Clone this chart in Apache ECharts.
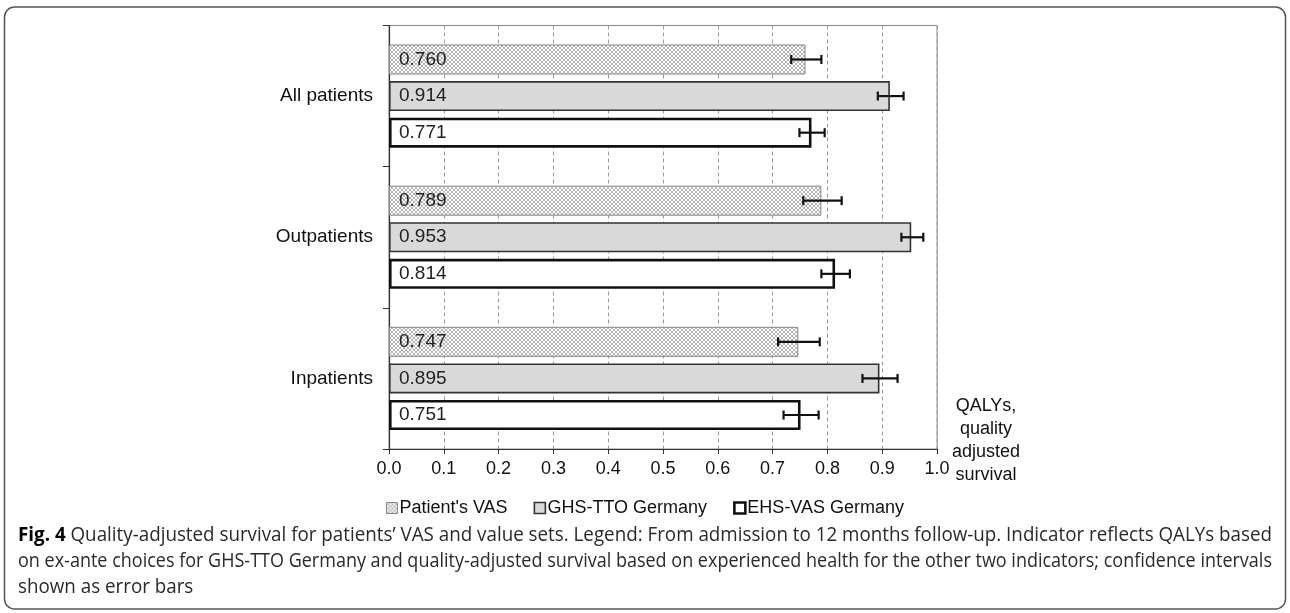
<!DOCTYPE html>
<html><head><meta charset="utf-8">
<script src="https://cdn.jsdelivr.net/npm/echarts@6/dist/echarts.min.js"></script>
<style>html,body{margin:0;padding:0;background:#fff}#c{width:1290px;height:613px}</style>
</head><body><div id="c"></div>
<script>
// ---- data ----
const categories = ['All patients', 'Outpatients', 'Inpatients'];
const seriesNames = ["Patient's VAS", 'GHS-TTO Germany', 'EHS-VAS Germany'];
const vasValues = [0.760, 0.789, 0.747];
const ghsValues = [0.914, 0.953, 0.895];
const ehsValues = [0.771, 0.814, 0.751];
const vasLow  = [0.734, 0.756, 0.710];
const vasHigh = [0.789, 0.826, 0.786];
const ghsLow  = [0.892, 0.935, 0.864];
const ghsHigh = [0.939, 0.975, 0.928];
const ehsLow  = [0.749, 0.789, 0.720];
const ehsHigh = [0.795, 0.841, 0.784];
const axisNameText = 'QALYs,\nquality\nadjusted\nsurvival';
const captionBold = 'Fig. 4';
const captionLines = [
  ' Quality-adjusted survival for patients\u2019 VAS and value sets. Legend: From admission to 12 months follow-up. Indicator reflects QALYs based',
  'on ex-ante choices for GHS-TTO Germany and quality-adjusted survival based on experienced health for the other two indicators; confidence intervals',
  'shown as error bars'
];

// ---- styles ----
const BAR_W = 30, BAR_GAP = 0.22;
const FONT = '"Liberation Sans", Arial, sans-serif';
const pc = document.createElement('canvas'); pc.width = 4; pc.height = 4;
(function(){ const g = pc.getContext('2d'); g.fillStyle = '#fff'; g.fillRect(0,0,4,4);
  g.strokeStyle = '#a0a0a0'; g.lineWidth = 0.8; g.beginPath();
  g.moveTo(0,0); g.lineTo(4,4); g.moveTo(4,0); g.lineTo(0,4); g.stroke(); })();
const hatch = { image: pc, repeat: 'repeat' };
const styles = [
  { color: hatch, borderColor: '#858585', borderWidth: 1 },
  { color: '#d9d9d9', borderColor: '#333', borderWidth: 1.6 },
  { color: '#ffffff', borderColor: '#111', borderWidth: 2.6 }
];
const values = [vasValues, ghsValues, ehsValues];
const lows = [vasLow, ghsLow, ehsLow];
const highs = [vasHigh, ghsHigh, ehsHigh];

function errRender(idx) {
  return function (params, api) {
    const cat = api.value(0);
    const pLo = api.coord([api.value(1), cat]);
    const pHi = api.coord([api.value(2), cat]);
    const total = BAR_W * 3 + BAR_W * BAR_GAP * 2;
    const off = -total / 2 + idx * BAR_W * (1 + BAR_GAP) + BAR_W / 2;
    const y = pLo[1] + off;
    const st = { stroke: '#111', lineWidth: 2.2 };
    return { type: 'group', children: [
      { type: 'line', shape: { x1: pLo[0], y1: y, x2: pHi[0], y2: y }, style: st },
      { type: 'line', shape: { x1: pLo[0], y1: y - 4.5, x2: pLo[0], y2: y + 4.5 }, style: st },
      { type: 'line', shape: { x1: pHi[0], y1: y - 4.5, x2: pHi[0], y2: y + 4.5 }, style: st }
    ]};
  };
}

const series = [];
seriesNames.forEach((n, i) => {
  series.push({
    name: n, type: 'bar', data: values[i], barWidth: BAR_W, barGap: (BAR_GAP * 100) + '%',
    itemStyle: styles[i],
    label: { show: true, position: 'insideLeft', distance: 10, fontFamily: FONT, fontSize: 19, color: '#222',
      formatter: p => p.value.toFixed(3) },
    z: 2
  });
});
seriesNames.forEach((n, i) => {
  series.push({
    name: 'err' + i, type: 'custom', renderItem: errRender(i),
    encode: { x: [1, 2], y: 0 },
    data: categories.map((c, k) => [k, lows[i][k], highs[i][k]]), z: 5, silent: true
  });
});

// caption fitting
const mc = document.createElement('canvas').getContext('2d');
const CAP_FONT = '"Open Sans", sans-serif', CAP_SIZE = 20;
function w(t, bold) { mc.font = (bold ? 'bold ' : '') + CAP_SIZE + 'px ' + CAP_FONT; return mc.measureText(t).width; }
const target = 1254;
const s1 = target / (w(captionBold, true) + w(captionLines[0]));
const s2 = target / w(captionLines[1]);
const capY = [535, 561, 587];
const capStyle = { fontFamily: CAP_FONT, fontSize: CAP_SIZE, fill: '#2a2a2a', verticalAlign: 'middle' };

const chart = echarts.init(document.getElementById('c'), null, { renderer: 'canvas' });
chart.setOption({
  animation: false,
  grid: { left: 389, right: 353, top: 25.5, bottom: 164, show: true, borderColor: '#8a8a8a', borderWidth: 1 },
  xAxis: {
    type: 'value', min: 0, max: 1, interval: 0.1,
    axisLine: { show: true, lineStyle: { color: '#333', width: 1.2 } },
    axisTick: { show: true, length: 5, lineStyle: { color: '#333' } },
    axisLabel: { fontFamily: FONT, fontSize: 18, color: '#111', margin: 11, formatter: v => v.toFixed(1) },
    splitLine: { show: true, lineStyle: { color: '#9a9a9a', type: [4, 3], width: 1 } }
  },
  yAxis: {
    type: 'category', data: categories, inverse: true,
    axisLine: { show: true, lineStyle: { color: '#333', width: 1.2 } },
    axisTick: { show: true, length: 6, lineStyle: { color: '#333' } },
    axisLabel: { fontFamily: FONT, fontSize: 19, color: '#111', margin: 16 },
    splitLine: { show: false }
  },
  legend: {
    data: seriesNames.map((n, i) => ({ name: n, icon: 'rect', itemStyle: styles[i] })),
    left: 'center', top: 494, itemWidth: 11, itemHeight: 11, itemGap: 26,
    textStyle: { fontFamily: FONT, fontSize: 18, color: '#111', padding: [0, 0, 0, -3] }
  },
  series: series,
  graphic: [
    { type: 'rect', shape: { x: 4.5, y: 7, width: 1281, height: 602, r: 10 }, style: { fill: 'none', stroke: '#555', lineWidth: 1.5 }, silent: true },
    { type: 'text', x: 986, y: 395, style: { text: axisNameText, fontFamily: FONT, fontSize: 18, lineHeight: 23, fill: '#111', align: 'center' } },
    { type: 'text', x: 18, y: capY[0], scaleX: s1, style: Object.assign({ text: '{b|' + captionBold + '}' + captionLines[0],
        rich: { b: { fontFamily: CAP_FONT, fontSize: CAP_SIZE, fontWeight: 'bold', fill: '#000' } } }, capStyle) },
    { type: 'text', x: 18, y: capY[1], scaleX: s2, style: Object.assign({ text: captionLines[1] }, capStyle) },
    { type: 'text', x: 18, y: capY[2], scaleX: s1, style: Object.assign({ text: captionLines[2] }, capStyle) }
  ]
});
</script></body></html>
